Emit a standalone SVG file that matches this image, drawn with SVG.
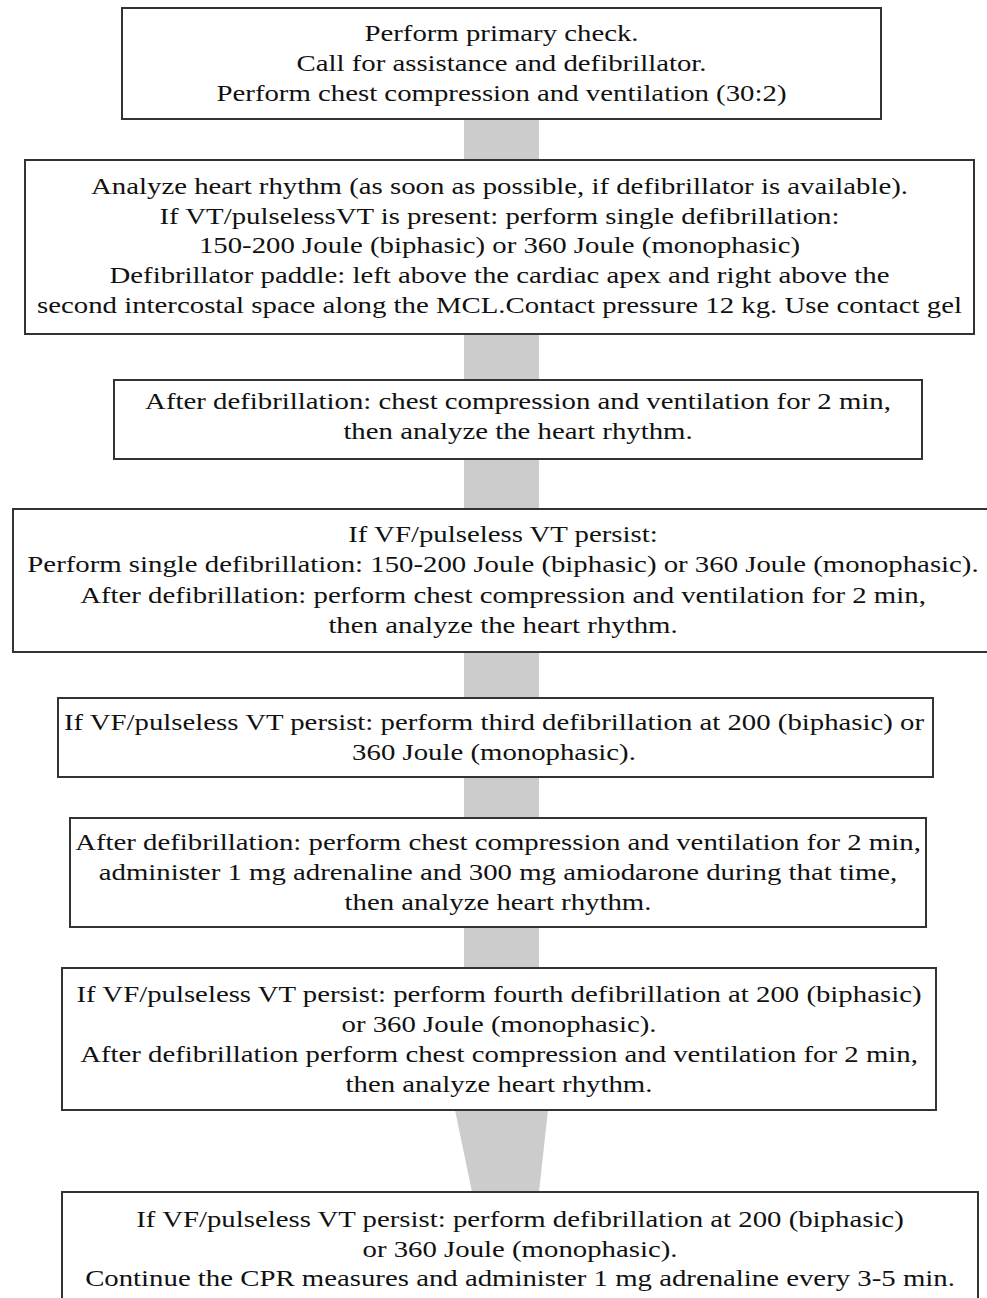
<svg xmlns="http://www.w3.org/2000/svg" width="987" height="1298" viewBox="0 0 987 1298">
<style>
.box{fill:#ffffff;stroke:#333333;stroke-width:2}
.conn{fill:#cccccc;stroke:none}
.t{font-family:"Liberation Serif","Times New Roman",serif;font-size:23.5px;fill:#111111;text-anchor:middle}
</style>
<rect width="987" height="1298" fill="#ffffff"/>
<g id="connectors">
<rect class="conn" x="464" y="119" width="75" height="41"/>
<rect class="conn" x="464" y="334" width="75" height="46"/>
<rect class="conn" x="464" y="459" width="75" height="50"/>
<rect class="conn" x="464" y="652" width="75" height="46"/>
<rect class="conn" x="464" y="777" width="75" height="41"/>
<rect class="conn" x="464" y="927" width="75" height="41"/>
<polygon class="conn" points="455,1110 548,1110 539,1192 472,1192"/>
</g>
<g id="node1">
<rect class="box" x="122" y="8" width="759" height="111"/>
<text class="t" transform="translate(501.5,0) scale(1.226,1)"><tspan x="0" y="41">Perform primary check.</tspan><tspan x="0" y="71">Call for assistance and defibrillator.</tspan><tspan x="0" y="101">Perform chest compression and ventilation (30:2)</tspan></text>
</g>
<g id="node2">
<rect class="box" x="25" y="160" width="949" height="174"/>
<text class="t" transform="translate(499.5,0) scale(1.226,1)"><tspan x="0" y="194">Analyze heart rhythm (as soon as possible, if defibrillator is available).</tspan><tspan x="0" y="224">If VT/pulselessVT is present: perform single defibrillation:</tspan><tspan x="0" y="253">150-200 Joule (biphasic) or 360 Joule (monophasic)</tspan><tspan x="0" y="283">Defibrillator paddle: left above the cardiac apex and right above the</tspan><tspan x="0" y="313">second intercostal space along the MCL.Contact pressure 12 kg. Use contact gel</tspan></text>
</g>
<g id="node3">
<rect class="box" x="114" y="380" width="808" height="79"/>
<text class="t" transform="translate(518,0) scale(1.226,1)"><tspan x="0" y="409">After defibrillation: chest compression and ventilation for 2 min,</tspan><tspan x="0" y="439">then analyze the heart rhythm.</tspan></text>
</g>
<g id="node4">
<rect class="box" x="13" y="509" width="980" height="143"/>
<text class="t" transform="translate(503,0) scale(1.226,1)"><tspan x="0" y="542">If VF/pulseless VT persist:</tspan><tspan x="0" y="572">Perform single defibrillation: 150-200 Joule (biphasic) or 360 Joule (monophasic).</tspan><tspan x="0" y="603">After defibrillation: perform chest compression and ventilation for 2 min,</tspan><tspan x="0" y="633">then analyze the heart rhythm.</tspan></text>
</g>
<g id="node5">
<rect class="box" x="58" y="698" width="875" height="79"/>
<text class="t" transform="translate(494,0) scale(1.226,1)"><tspan x="0" y="730">If VF/pulseless VT persist: perform third defibrillation at 200 (biphasic) or</tspan><tspan x="0" y="760">360 Joule (monophasic).</tspan></text>
</g>
<g id="node6">
<rect class="box" x="70" y="818" width="856" height="109"/>
<text class="t" transform="translate(498,0) scale(1.226,1)"><tspan x="0" y="850">After defibrillation: perform chest compression and ventilation for 2 min,</tspan><tspan x="0" y="880">administer 1 mg adrenaline and 300 mg amiodarone during that time,</tspan><tspan x="0" y="910">then analyze heart rhythm.</tspan></text>
</g>
<g id="node7">
<rect class="box" x="62" y="968" width="874" height="142"/>
<text class="t" transform="translate(499,0) scale(1.226,1)"><tspan x="0" y="1002">If VF/pulseless VT persist: perform fourth defibrillation at 200 (biphasic)</tspan><tspan x="0" y="1032">or 360 Joule (monophasic).</tspan><tspan x="0" y="1062">After defibrillation perform chest compression and ventilation for 2 min,</tspan><tspan x="0" y="1092">then analyze heart rhythm.</tspan></text>
</g>
<g id="node8">
<rect class="box" x="62" y="1192" width="916" height="115"/>
<text class="t" transform="translate(520,0) scale(1.226,1)"><tspan x="0" y="1227">If VF/pulseless VT persist: perform defibrillation at 200 (biphasic)</tspan><tspan x="0" y="1257">or 360 Joule (monophasic).</tspan><tspan x="0" y="1286">Continue the CPR measures and administer 1 mg adrenaline every 3-5 min.</tspan></text>
</g>
</svg>
